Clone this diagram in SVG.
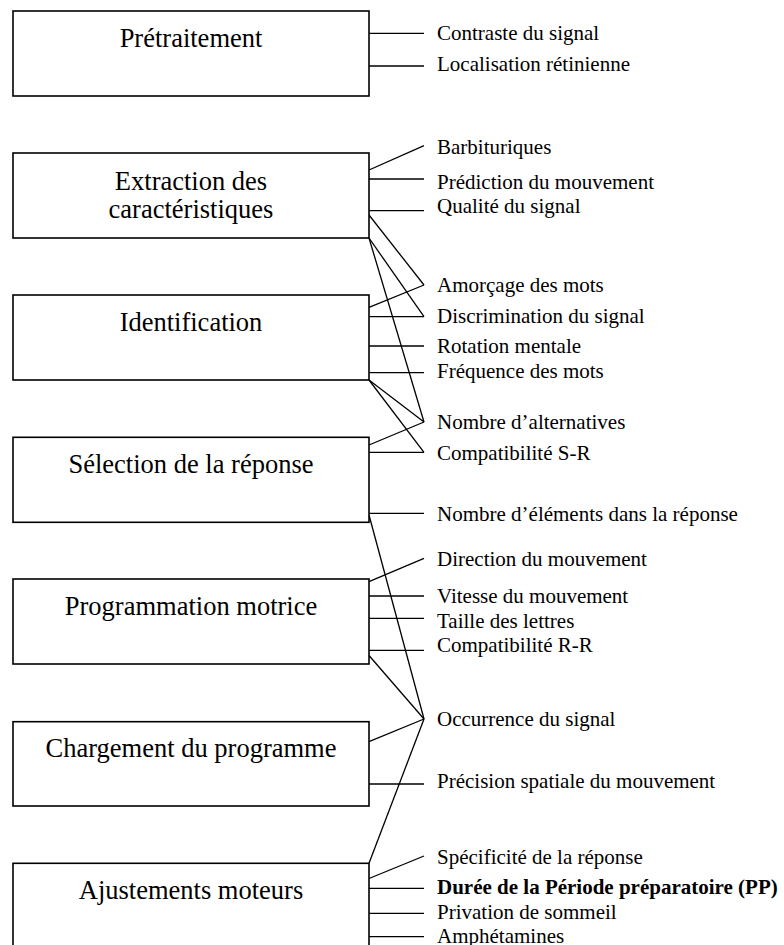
<svg xmlns="http://www.w3.org/2000/svg" width="784" height="945" viewBox="0 0 784 945">
<style>
.box{fill:#fff;stroke:#000;stroke-width:1.6}
.t{font-family:"Liberation Serif","Times New Roman",serif;font-size:26.5px;fill:#000;text-anchor:middle}
.l{font-family:"Liberation Serif","Times New Roman",serif;font-size:21px;fill:#000}
.b{font-weight:bold}
#connectors line{stroke:#000;stroke-width:1.3}
</style>
<rect width="784" height="945" fill="#fff"/>
<g id="connectors">
<line x1="369" y1="33.3" x2="424" y2="33.3"/>
<line x1="369" y1="66" x2="424" y2="66"/>
<line x1="369" y1="170" x2="424" y2="145.7"/>
<line x1="369" y1="179" x2="424" y2="179"/>
<line x1="369" y1="210.7" x2="424" y2="210.7"/>
<line x1="369" y1="215" x2="424" y2="285"/>
<line x1="369" y1="238" x2="424" y2="316.7"/>
<line x1="369" y1="238" x2="424" y2="422"/>
<line x1="369" y1="307.3" x2="424" y2="285"/>
<line x1="369" y1="316.7" x2="424" y2="316.7"/>
<line x1="369" y1="346" x2="424" y2="346"/>
<line x1="369" y1="372.7" x2="424" y2="372.7"/>
<line x1="369" y1="380" x2="424" y2="422"/>
<line x1="369" y1="380" x2="424" y2="452.3"/>
<line x1="369" y1="445" x2="424" y2="422"/>
<line x1="369" y1="452.3" x2="424" y2="452.3"/>
<line x1="369" y1="513.3" x2="424" y2="513.3"/>
<line x1="369" y1="515" x2="424" y2="719"/>
<line x1="369" y1="581.7" x2="424" y2="558.3"/>
<line x1="369" y1="596" x2="424" y2="596"/>
<line x1="369" y1="618.3" x2="424" y2="618.3"/>
<line x1="369" y1="650.3" x2="424" y2="650.3"/>
<line x1="369" y1="655.5" x2="424" y2="719"/>
<line x1="369" y1="741.7" x2="424" y2="719"/>
<line x1="369" y1="784" x2="424" y2="784"/>
<line x1="369" y1="863.3" x2="424" y2="719"/>
<line x1="369" y1="878.5" x2="424" y2="856"/>
<line x1="369" y1="888.3" x2="424" y2="888.3"/>
<line x1="369" y1="913.3" x2="424" y2="913.3"/>
<line x1="369" y1="936.7" x2="424" y2="936.7"/>
</g>
<g id="pretraitement"><rect class="box" x="13" y="11" width="356" height="85"/><text class="t" x="191" y="46.7">Prétraitement</text></g>
<g id="extraction"><rect class="box" x="13" y="153" width="356" height="85"/><text class="t" x="191" y="190">Extraction des</text><text class="t" x="191" y="218.3">caractéristiques</text></g>
<g id="identification"><rect class="box" x="13" y="295" width="356" height="85"/><text class="t" x="191" y="331">Identification</text></g>
<g id="selection"><rect class="box" x="13" y="437.3" width="356" height="85"/><text class="t" x="191" y="472.5">Sélection de la réponse</text></g>
<g id="programmation"><rect class="box" x="13" y="579" width="356" height="85"/><text class="t" x="191" y="615">Programmation motrice</text></g>
<g id="chargement"><rect class="box" x="13" y="721.7" width="356" height="84.3"/><text class="t" x="191" y="757.3">Chargement du programme</text></g>
<g id="ajustements"><rect class="box" x="13" y="863.3" width="356" height="85"/><text class="t" x="191" y="899">Ajustements moteurs</text></g>
<g id="labels">
<text class="l" x="437" y="40">Contraste du signal</text>
<text class="l" x="437" y="71">Localisation rétinienne</text>
<text class="l" x="437" y="154.3">Barbituriques</text>
<text class="l" x="437" y="189.3">Prédiction du mouvement</text>
<text class="l" x="437" y="212.7">Qualité du signal</text>
<text class="l" x="437" y="291.7">Amorçage des mots</text>
<text class="l" x="437" y="322.7">Discrimination du signal</text>
<text class="l" x="437" y="352.7">Rotation mentale</text>
<text class="l" x="437" y="378.3">Fréquence des mots</text>
<text class="l" x="437" y="429.3">Nombre d’alternatives</text>
<text class="l" x="437" y="459.7">Compatibilité S-R</text>
<text class="l" x="437" y="521">Nombre d’éléments dans la réponse</text>
<text class="l" x="437" y="566">Direction du mouvement</text>
<text class="l" x="437" y="603.3">Vitesse du mouvement</text>
<text class="l" x="437" y="627.5">Taille des lettres</text>
<text class="l" x="437" y="651.7">Compatibilité R-R</text>
<text class="l" x="437" y="726">Occurrence du signal</text>
<text class="l" x="437" y="788.3">Précision spatiale du mouvement</text>
<text class="l" x="437" y="864">Spécificité de la réponse</text>
<text class="l b" x="437" y="894">Durée de la Période préparatoire (PP)</text>
<text class="l" x="437" y="919">Privation de sommeil</text>
<text class="l" x="437" y="942.5">Amphétamines</text>
</g>
</svg>
